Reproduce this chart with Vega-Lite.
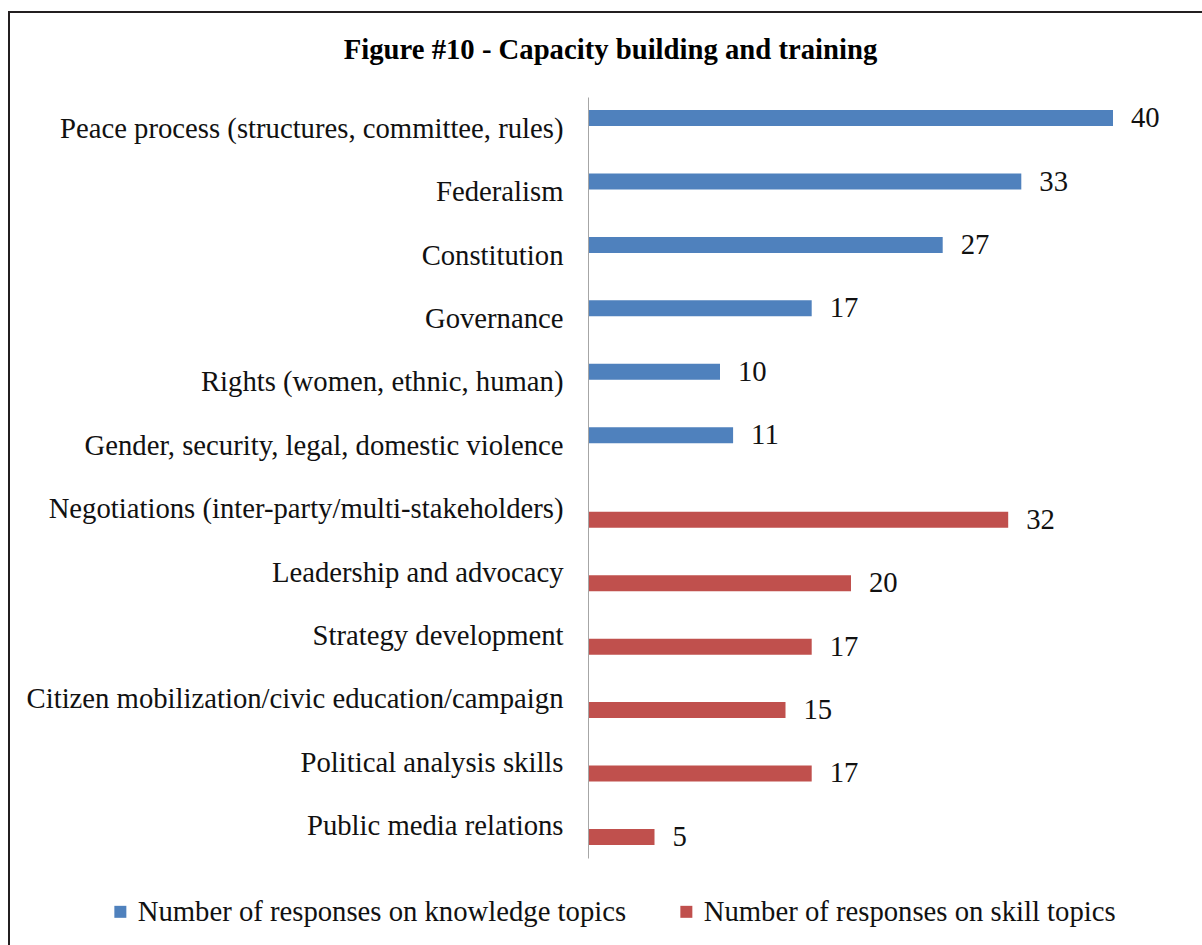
{
  "$schema": "https://vega.github.io/schema/vega-lite/v6.json",
  "autosize": "none",
  "padding": {"left": 9, "top": 12, "right": -2, "bottom": -2},
  "width": 1195,
  "height": 935,
  "background": "white",
  "title": {
    "text": "Figure #10 - Capacity building and training",
    "font": "Liberation Serif",
    "fontSize": 28.7,
    "fontWeight": "bold",
    "color": "#000000",
    "anchor": "middle",
    "offset": -53,
    "dx": 4
  },
  "data": {
    "values": [
      {"topic": "Peace process (structures, committee, rules)", "series": "Number of responses on knowledge topics", "value": 40},
      {"topic": "Federalism", "series": "Number of responses on knowledge topics", "value": 33},
      {"topic": "Constitution", "series": "Number of responses on knowledge topics", "value": 27},
      {"topic": "Governance", "series": "Number of responses on knowledge topics", "value": 17},
      {"topic": "Rights (women, ethnic, human)", "series": "Number of responses on knowledge topics", "value": 10},
      {"topic": "Gender, security, legal, domestic violence", "series": "Number of responses on knowledge topics", "value": 11},
      {"topic": "Negotiations (inter-party/multi-stakeholders)", "series": "Number of responses on skill topics", "value": 32},
      {"topic": "Leadership and advocacy", "series": "Number of responses on skill topics", "value": 20},
      {"topic": "Strategy development", "series": "Number of responses on skill topics", "value": 17},
      {"topic": "Citizen mobilization/civic education/campaign", "series": "Number of responses on skill topics", "value": 15},
      {"topic": "Political analysis skills", "series": "Number of responses on skill topics", "value": 17},
      {"topic": "Public media relations", "series": "Number of responses on skill topics", "value": 5}
    ]
  },
  "encoding": {
    "y": {
      "field": "topic",
      "type": "nominal",
      "sort": null,
      "scale": {"range": [85, 846], "paddingInner": 0.331, "paddingOuter": 0.1655},
      "axis": {
        "title": null,
        "offset": -579,
        "domain": true,
        "domainColor": "#a6a6a6",
        "domainWidth": 1,
        "ticks": false,
        "grid": false,
        "labelFont": "Liberation Serif",
        "labelFontSize": 28.7,
        "labelColor": "#111111",
        "labelPadding": 25,
        "labelLimit": 800
      }
    },
    "yOffset": {
      "field": "series",
      "type": "nominal",
      "sort": ["Number of responses on knowledge topics", "Number of responses on skill topics"],
      "scale": {"paddingInner": 0.245, "paddingOuter": 0.1225}
    },
    "x": {
      "field": "value",
      "type": "quantitative",
      "scale": {"domain": [0, 40], "range": [580, 1104], "nice": false, "zero": true},
      "axis": null
    }
  },
  "layer": [
    {
      "mark": {"type": "bar"},
      "encoding": {
        "color": {
          "field": "series",
          "type": "nominal",
          "scale": {
            "domain": ["Number of responses on knowledge topics", "Number of responses on skill topics"],
            "range": ["#4F81BD", "#C0504D"]
          },
          "legend": {
            "title": null,
            "orient": "none",
            "legendX": 97,
            "legendY": 885,
            "direction": "horizontal",
            "symbolType": "square",
            "symbolSize": 144,
            "symbolStrokeWidth": 0,
            "labelFont": "Liberation Serif",
            "labelFontSize": 28.7,
            "labelColor": "#111111",
            "labelOffset": 3,
            "labelLimit": 800,
            "columnPadding": 45
          }
        }
      }
    },
    {
      "mark": {"type": "text", "align": "left", "baseline": "middle", "dx": 18, "font": "Liberation Serif", "fontSize": 28.7, "color": "#111111"},
      "encoding": {"text": {"field": "value", "type": "quantitative"}}
    }
  ],
  "config": {"view": {"stroke": "#231f20", "strokeWidth": 2}}
}
